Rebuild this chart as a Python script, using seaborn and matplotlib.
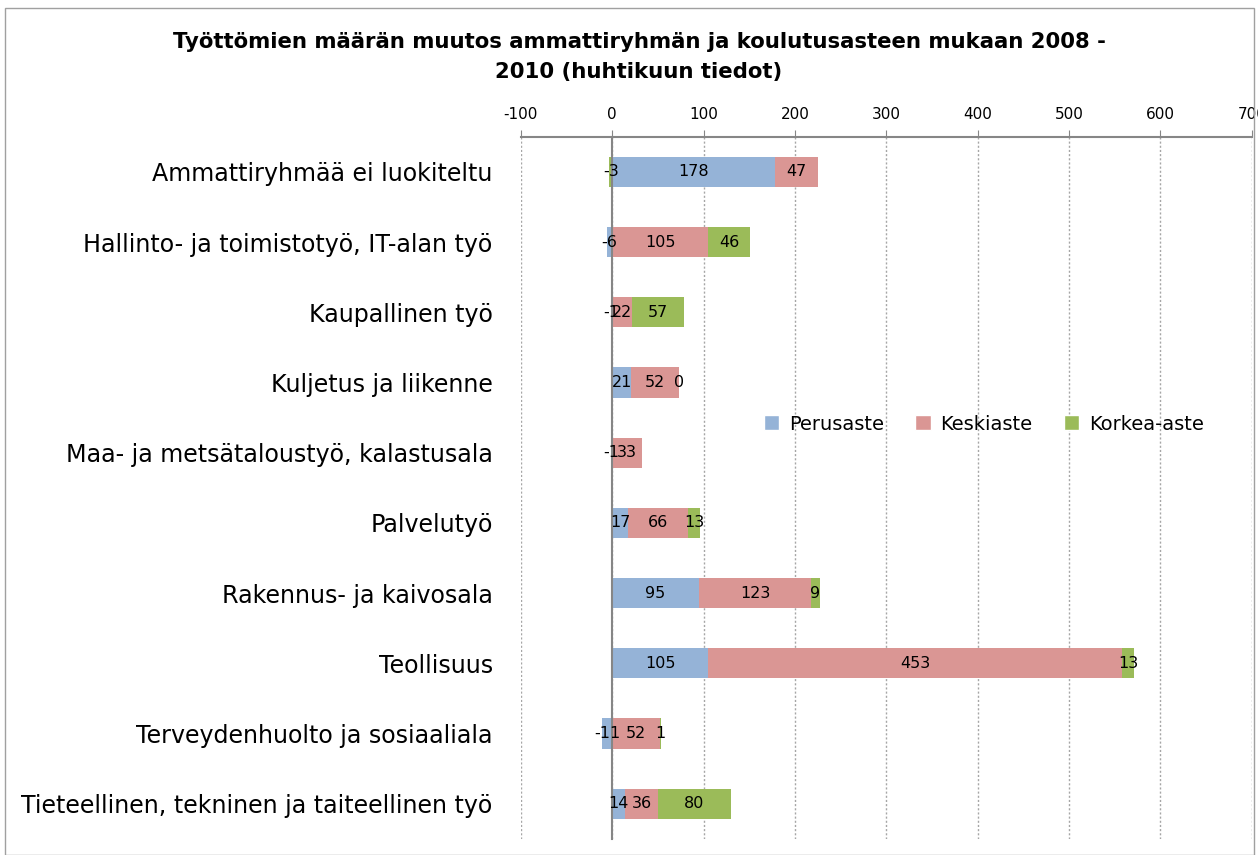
import numpy as np
import pandas as pd
import matplotlib.pyplot as plt
import seaborn as sns
from matplotlib.patches import Patch, Rectangle

categories = ["Ammattiryhmää ei luokiteltu",
              "Hallinto- ja toimistotyö, IT-alan työ",
              "Kaupallinen työ",
              "Kuljetus ja liikenne",
              "Maa- ja metsätaloustyö, kalastusala",
              "Palvelutyö",
              "Rakennus- ja kaivosala",
              "Teollisuus",
              "Terveydenhuolto ja sosiaaliala",
              "Tieteellinen, tekninen ja taiteellinen työ"]
perusaste = [178, -6, -1, 21, -1, 17, 95, 105, -11, 14]
keskiaste = [47, 105, 22, 52, 33, 66, 123, 453, 52, 36]
korkea_aste = [-3, 46, 57, 0, np.nan, 13, 9, 13, 1, 80]

series = ["Perusaste", "Keskiaste", "Korkea-aste"]
colors = ["#95B3D7", "#DA9694", "#9BBB59"]

sns.set_style("white")
plt.rcParams['font.family'] = ['DejaVu Sans']
plt.rcParams['axes.unicode_minus'] = False
plt.rcParams['text.color'] = 'black'
plt.rcParams['xtick.color'] = 'black'
plt.rcParams['ytick.color'] = 'black'

df = pd.DataFrame({"cat": categories, "Perusaste": perusaste,
                   "Keskiaste": keskiaste, "Korkea-aste": korkea_aste})
vals = df[series].fillna(0).values
pos = np.clip(vals, 0, None)
cum_end = np.cumsum(pos, axis=1)
neg = np.clip(vals, None, 0)

fig = plt.figure(figsize=(12.58, 8.55), dpi=100)
ax = fig.add_axes([0.414, 0.019, 0.581, 0.821])

# stacked positive parts drawn back to front, negatives from zero
for j in [2, 1, 0]:
    sns.barplot(x=cum_end[:, j], y=df["cat"], orient="h", color=colors[j],
                saturation=1, width=0.43, errorbar=None, linewidth=0, ax=ax)
for j in range(3):
    sns.barplot(x=neg[:, j], y=df["cat"], orient="h", color=colors[j],
                saturation=1, width=0.43, errorbar=None, linewidth=0, ax=ax)

# data labels at segment centres
for i in range(len(categories)):
    for j, s in enumerate(series):
        v = df[s].iloc[i]
        if pd.isna(v):
            continue
        if v < 0:
            c = v / 2
        else:
            c = cum_end[i, j] - v / 2
        ax.text(c, i, f"{int(v)}", ha="center", va="center", fontsize=11.5,
                color="black")

ax.set_xlim(-100, 700)
ax.set_ylim(len(categories) - 0.5, -0.5)
ax.set_xticks(range(-100, 701, 100))
ax.xaxis.tick_top()
ax.tick_params(axis="x", direction="out", length=5, color="#868686",
               labelsize=11, pad=6, labelcolor="black")
ax.grid(axis="x", color="#A6A6A6", linestyle=(0, (1.5, 1.5)), linewidth=1)
ax.set_axisbelow(True)

ax.spines["left"].set_position(("data", 0))
ax.spines["left"].set_color("#868686")
ax.spines["left"].set_linewidth(1.5)
ax.spines["top"].set_color("#868686")
ax.spines["top"].set_linewidth(1.5)
ax.spines["bottom"].set_visible(False)
ax.spines["right"].set_visible(False)

ax.set_yticks(range(len(categories)))
ax.set_yticklabels(categories, fontsize=17.1, color="black")
ax.set_yticks(np.arange(-0.5, len(categories), 1), minor=True)
ax.tick_params(axis="y", which="major", length=0, pad=86)
ax.tick_params(axis="y", which="minor", length=6, color="#868686",
               direction="out", width=1.2)
ax.set_xlabel("")
ax.set_ylabel("")

handles = [Patch(facecolor=c, label=s) for s, c in zip(series, colors)]
fig.legend(handles=handles, loc="center", bbox_to_anchor=(0.782, 0.504),
           ncol=3, frameon=False, fontsize=14, handlelength=0.8,
           handleheight=0.8, columnspacing=1.6, handletextpad=0.5,
           labelcolor="black")

fig.text(0.508, 0.951, "Työttömien määrän muutos ammattiryhmän ja koulutusasteen mukaan 2008 -",
         ha="center", va="center", fontsize=15.3, fontweight="bold", color="black")
fig.text(0.508, 0.916, "2010 (huhtikuun tiedot)",
         ha="center", va="center", fontsize=15.3, fontweight="bold", color="black")

fig.patches.append(Rectangle((0.004, 0.0), 0.993, 0.991, transform=fig.transFigure,
                             fill=False, edgecolor="#A0A0A0", linewidth=1))

fig.savefig("out.png", dpi=100)
